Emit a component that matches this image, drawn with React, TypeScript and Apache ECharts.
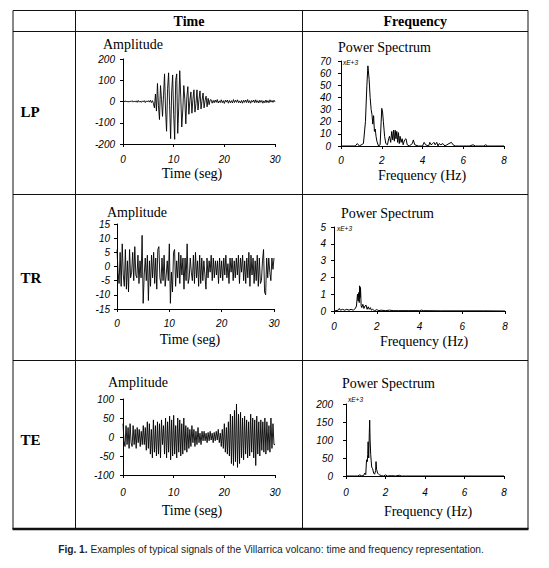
import React, { useEffect, useRef } from "react";
import * as echarts from "echarts";

// ---------- data ----------
const ROW_LABELS = ["LP", "TR", "TE"];
const HEADERS = ["Time", "Frequency"];
const TIME_TICKS = [0, 30, 10];
const FREQ_TICKS = [0, 8, 2];
const CAPTION_BOLD = "Fig. 1.";
const CAPTION_TEXT = " Examples of typical signals of the Villarrica volcano: time and frequency representation.";
const SCALE_NOTE = "xE+3";

// amplitude ranges [min, max, step]
const LP_AMP_RANGE = [-200, 200, 100];
const TR_AMP_RANGE = [-15, 15, 5];
const TE_AMP_RANGE = [-100, 100, 50];
const LP_POW_RANGE = [0, 70, 10];
const TR_POW_RANGE = [0, 5, 1];
const TE_POW_RANGE = [0, 200, 50];

// time signals, equally sampled over 0..30 s
const LP_AMP = [
  0, 2, -1, 3, -2, 1, -3, 2, -1, 4, -3, 2, -2, 3, -4, 5, -3, 2, -4, 3, -2, 4, -5, 3, -2, 4, -3, 6, -5, 4, -8,
  -30, 35, -45, 85, -20, -85, 75, 10, -70, 30, 130, -40, -140, 60, 135, -20, -175, 40, 125, -60,
  -178, 100, 130, -150, -30, 145, 20, -120, -40, 75, 10, -105, 20, 70, -60, 5, 45, -55, 10, 55,
  -50, -10, 55, -40, 10, 50, -35, 5, 40, -30, 5, 25, -25, 15, -15, 8,
  8, -8, 5, -6, 7, -4, 9, -7, 3, -5, 8, -6, 4, -9, 6, -3, 7, -8, 5, -6, 4, -7, 9, -5, 6, -4, 8, -6, 3, -7,
  5, -8, 6, -4, 7, -5, 9, -6, 4, -8, 5, -3, 7, -6, 8, -5, 4, -7, 6, -4, 5, -8, 3, -6, 7, -5, 4, -6, 8, -3,
  5, -4, 6, -2,
];
const TR_AMP = [
  6, -2, -6, 5, -7, 8, -3, -7, 6, -8, 2, -9, 6, -4, -2, 5, -5, 7, -3, -4,
  4, -6, 2, -4, 11, -13, -3, 3, -5, 4, -12, 2, -7, 4, -4, 5, -6, 3, -8, 6,
  7, -4, -6, 3, -5, 4, -7, -3, 2, -5, 8, -13, -2, -9, 5, 6, -7, 2, -4, 5,
  -6, 4, -3, 3, -8, 3, -5, 8, -6, -4, 3, -2, -5, 4, -6, 5, -4, 2, -7, 4,
  -6, 3, -5, 2, -3, -8, 3, -4, 2, -2, 4, -5, 3, -4, 2, -3, 2, -6, 3, -4,
  2, -5, 3, -3, 4, -4, 1, -6, 3, -2, 3, -5, 2, -4, 3, -3, 4, -6, 3, -2,
  4, -5, 2, -6, 3, -4, 5, -7, 4, -3, 3, -6, 2, -5, 4, -7, 3, -6, -5, 2,
  6, -9, -10, 3, -4, 3, -2, -5, 3, -1, 3,
];
const TE_AMP = [
  35, -10, -25, 30, -20, 25, -30, 35, -15, -25, 30, -20, 20, -30, 25, -15, 20, -25, 15, -20,
  30, -20, 25, -35, 40, -30, 35, -45, 20, -55, 45, -40, 30, -50, 40, -45, 35, -55, 45, -20,
  30, -45, 50, -55, 40, -40, 55, -60, 45, -50, 57, -45, 30, -55, 50, -40, 45, -50, 35, -45,
  50, -35, 30, -40, 25, -30, 20, -25, 30, -15, 20, -25, 15, -20, 25, -15, 10, -20, 15, -10,
  15, -10, 10, -15, 12, -10, 15, -8, 10, -15, 12, -10, 15, -8, 20, -15, 10, -25, 20, -30,
  35, -40, 25, -45, 40, -50, 60, -70, 55, -75, 70, -65, 87, -80, 60, -70, 65, -55, 50, -60,
  55, -45, 45, -55, 40, -50, 60, -40, 50, -55, 45, -75, 55, -45, 40, -50, 45, -35, 40, -40,
  50, -45, 40, -35, 30, -40, 50, -30, 35, -20, -20,
];

// power spectra (frequency in Hz, power in E+3)
const LP_FREQ = [
  0, 0.7, 0.8, 0.9, 1.1, 1.2, 1.27, 1.32, 1.38, 1.43, 1.48, 1.52, 1.56, 1.6, 1.64, 1.68, 1.72, 1.76, 1.84, 1.92,
  2.0, 2.04, 2.08, 2.14, 2.2, 2.28, 2.34, 2.38, 2.44, 2.49, 2.54, 2.58, 2.62, 2.66, 2.7, 2.74, 2.78, 2.82, 2.86, 2.9,
  2.95, 3.0, 3.05, 3.12, 3.19, 3.25, 3.35, 3.5, 3.55, 3.62, 3.8, 4.0, 4.08, 4.15, 4.3, 4.36, 4.42, 4.5, 4.56, 4.62,
  4.7, 4.76, 4.82, 4.9, 5.0, 5.1, 5.2, 5.3, 5.42, 5.5, 5.6, 5.8, 6.0, 6.3, 6.48, 6.6, 7.0, 7.1, 7.2, 7.5, 8,
];
const LP_POWER = [
  0, 0, 2, 0, 2, 20, 50, 66, 55, 40, 30, 26, 18, 25, 12, 14, 8, 4, 0, 1,
  31, 28, 20, 8, 2, 1, 6, 8, 3, 12, 5, 13, 4, 13, 6, 12, 3, 11, 2, 8,
  3, 6, 1, 5, 6, 1, 0, 2, 5, 1, 0, 0, 3, 1, 0, 3, 1, 2, 3, 1,
  3, 0, 2, 1, 2, 0, 1, 2, 3, 1, 0, 0, 0, 0, 1, 0, 0, 1, 0, 0, 0,
];
const TR_FREQ = [
  0, 0.2, 0.25, 0.3, 0.4, 0.5, 0.6, 0.7, 0.8, 0.9, 1.0, 1.05, 1.1, 1.13, 1.16, 1.18, 1.2, 1.22, 1.24, 1.27,
  1.3, 1.35, 1.4, 1.45, 1.5, 1.55, 1.6, 1.65, 1.7, 1.75, 1.8, 1.9, 2.0, 2.1, 2.2, 2.4, 2.6, 2.8, 3.0, 3.5,
  4.0, 4.1, 4.2, 5.0, 6.0, 7.0, 8,
];
const TR_POWER = [
  0, 0.05, 0.15, 0.05, 0.1, 0.05, 0.1, 0.05, 0.1, 0.05, 0.15, 0.3, 1.0, 0.6, 1.1, 0.5, 1.5, 0.8, 1.4, 0.3,
  0.2, 0.4, 0.15, 0.3, 0.35, 0.1, 0.25, 0.1, 0.2, 0.05, 0.1, 0.02, 0.08, 0.02, 0.05, 0.02, 0.05, 0.02, 0.02, 0.02,
  0.02, 0.05, 0.02, 0.01, 0.01, 0.01, 0,
];
const TE_FREQ = [
  0, 0.6, 0.7, 0.8, 0.9, 0.95, 1.0, 1.04, 1.08, 1.1, 1.12, 1.15, 1.18, 1.2, 1.22, 1.25, 1.3, 1.35, 1.4, 1.45,
  1.5, 1.52, 1.55, 1.6, 1.65, 1.7, 1.8, 1.9, 2.0, 2.1, 2.3, 2.5, 2.7, 2.8, 3.0, 4.0, 8,
];
const TE_POWER = [
  0, 0, 3, 0, 2, 8, 4, 45, 40, 60, 95, 50, 120, 155, 100, 60, 25, 20, 8, 5,
  15, 40, 18, 8, 5, 3, 1, 0, 3, 0, 1, 0, 2, 0, 0, 0, 0,
];

// ---------- layout ----------
const W = 549;
const H = 568;
const SERIF = '"Liberation Serif", "Times New Roman", serif';
const SANS = '"Liberation Sans", Arial, sans-serif';

type Panel = {
  grid: { left: number; top: number; width: number; height: number };
  xr: number[];
  yr: number[];
  yMargin: number;
  xMargin: number;
  title: string;
  titleX: number;
  titleY: number;
  name: string;
  nameX: number;
  nameY: number;
  note?: { x: number; y: number };
  width: number;
  data: number[][];
};

export default function App() {
  const ref = useRef<HTMLDivElement>(null);

  useEffect(() => {
    if (!ref.current) return;
    const chart = echarts.init(ref.current, undefined, { renderer: "svg", width: W, height: H });

    const timeData = (arr: number[]) =>
      arr.map((v, i) => [(i * TIME_TICKS[1]) / (arr.length - 1), v]);
    const specData = (f: number[], p: number[]) => f.map((x, i) => [x, p[i]]);

    const panels: Panel[] = [
      {
        grid: { left: 123, top: 59, width: 152, height: 85 },
        xr: TIME_TICKS, yr: LP_AMP_RANGE, yMargin: 8, xMargin: 10,
        title: "Amplitude", titleX: 103, titleY: 44,
        name: "Time (seg)", nameX: 192, nameY: 173,
        width: 0.9,
        data: timeData(LP_AMP),
      },
      {
        grid: { left: 341, top: 61, width: 163, height: 85 },
        xr: FREQ_TICKS, yr: LP_POW_RANGE, yMargin: 10, xMargin: 9,
        title: "Power Spectrum", titleX: 338, titleY: 47,
        name: "Frequency (Hz)", nameX: 422, nameY: 175,
        note: { x: 343, y: 62 },
        width: 1,
        data: specData(LP_FREQ, LP_POWER),
      },
      {
        grid: { left: 117, top: 224, width: 157, height: 85 },
        xr: TIME_TICKS, yr: TR_AMP_RANGE, yMargin: 7, xMargin: 9,
        title: "Amplitude", titleX: 107, titleY: 212,
        name: "Time (seg)", nameX: 190, nameY: 339,
        width: 0.9,
        data: timeData(TR_AMP),
      },
      {
        grid: { left: 334, top: 227, width: 171, height: 84 },
        xr: FREQ_TICKS, yr: TR_POW_RANGE, yMargin: 8, xMargin: 10,
        title: "Power Spectrum", titleX: 341, titleY: 213,
        name: "Frequency (Hz)", nameX: 424, nameY: 341,
        note: { x: 337, y: 228 },
        width: 1,
        data: specData(TR_FREQ, TR_POWER),
      },
      {
        grid: { left: 123, top: 399, width: 152, height: 76 },
        xr: TIME_TICKS, yr: TE_AMP_RANGE, yMargin: 9, xMargin: 12,
        title: "Amplitude", titleX: 108, titleY: 382,
        name: "Time (seg)", nameX: 192, nameY: 510,
        width: 0.9,
        data: timeData(TE_AMP),
      },
      {
        grid: { left: 346, top: 404, width: 158, height: 72 },
        xr: FREQ_TICKS, yr: TE_POW_RANGE, yMargin: 13, xMargin: 11,
        title: "Power Spectrum", titleX: 342, titleY: 383,
        name: "Frequency (Hz)", nameX: 428, nameY: 511,
        note: { x: 348, y: 399 },
        width: 1,
        data: specData(TE_FREQ, TE_POWER),
      },
    ];

    const axisLabel = (margin: number) => ({
      fontStyle: "italic",
      fontFamily: SANS,
      fontSize: 10,
      color: "#000",
      margin,
    });
    const axisLine = { show: true, onZero: false, lineStyle: { color: "#000", width: 1 } };
    const axisTick = { show: true, length: 3, lineStyle: { color: "#000", width: 1 } };

    const graphics: any[] = [];
    const line = (x1: number, y1: number, x2: number, y2: number, w = 1) =>
      graphics.push({
        type: "line",
        shape: { x1, y1, x2, y2 },
        style: { stroke: "#111", lineWidth: w },
        z: 10,
      });

    // table frame
    const TL = 13, TR = 528, TT = 10.5, TB = 529;
    const C1 = 75.5, C2 = 302.5;
    const R0 = 31.5, R1 = 194.5, R2 = 360.5;
    line(TL, TT, TR, TT);
    line(TL, R0, TR, R0);
    line(TL, R1, TR, R1);
    line(TL, R2, TR, R2);
    line(TL - 0.5, TB, TR + 0.5, TB, 2.5);
    [TL, C1, C2, TR].forEach((x) => line(x, TT, x, TB));

    const text = (t: string, x: number, y: number, font: string, align = "left", extra: any = {}) =>
      graphics.push({
        type: "text",
        x,
        y,
        z: 10,
        style: { text: t, font, fill: "#000", align, verticalAlign: "middle", ...extra },
      });

    text(HEADERS[0], (C1 + C2) / 2, 21, `bold 14px ${SERIF}`, "center");
    text(HEADERS[1], (C2 + TR) / 2, 21, `bold 14px ${SERIF}`, "center");
    const rowY = [112, 278, 440];
    ROW_LABELS.forEach((r, i) => text(r, 20.5, rowY[i], `bold 15px ${SERIF}`));

    panels.forEach((p) => {
      text(p.title, p.titleX, p.titleY, `14px ${SERIF}`);
      text(p.name, p.nameX, p.nameY, `14px ${SERIF}`, "center");
      if (p.note) text(SCALE_NOTE, p.note.x, p.note.y, `italic 6.5px ${SANS}`);
    });

    graphics.push({
      type: "text",
      x: 271,
      y: 549,
      z: 10,
      style: {
        text: `{b|${CAPTION_BOLD}}{r|${CAPTION_TEXT}}`,
        align: "center",
        verticalAlign: "middle",
        fill: "#222",
        rich: {
          b: { fontFamily: SANS, fontSize: 10.2, fontWeight: "bold", fill: "#222" },
          r: { fontFamily: SANS, fontSize: 10.2, fill: "#222" },
        },
      },
    });

    chart.setOption({
      animation: false,
      backgroundColor: "#fff",
      grid: panels.map((p) => ({ ...p.grid, containLabel: false })),
      xAxis: panels.map((p, i) => ({
        type: "value",
        gridIndex: i,
        min: p.xr[0],
        max: p.xr[1],
        interval: p.xr[2],
        axisLine,
        axisTick,
        axisLabel: axisLabel(p.xMargin),
        splitLine: { show: false },
      })),
      yAxis: panels.map((p, i) => ({
        type: "value",
        gridIndex: i,
        min: p.yr[0],
        max: p.yr[1],
        interval: p.yr[2],
        axisLine,
        axisTick,
        axisLabel: axisLabel(p.yMargin),
        splitLine: { show: false },
      })),
      series: panels.map((p, i) => ({
        type: "line",
        xAxisIndex: i,
        yAxisIndex: i,
        data: p.data,
        showSymbol: false,
        symbol: "none",
        lineStyle: { color: "#000", width: p.width },
        clip: true,
      })),
      graphic: graphics,
    });

    return () => chart.dispose();
  }, []);

  return (
    <div
      ref={ref}
      style={{ position: "absolute", left: 0, top: 0, width: W, height: H, background: "#fff" }}
    />
  );
}
